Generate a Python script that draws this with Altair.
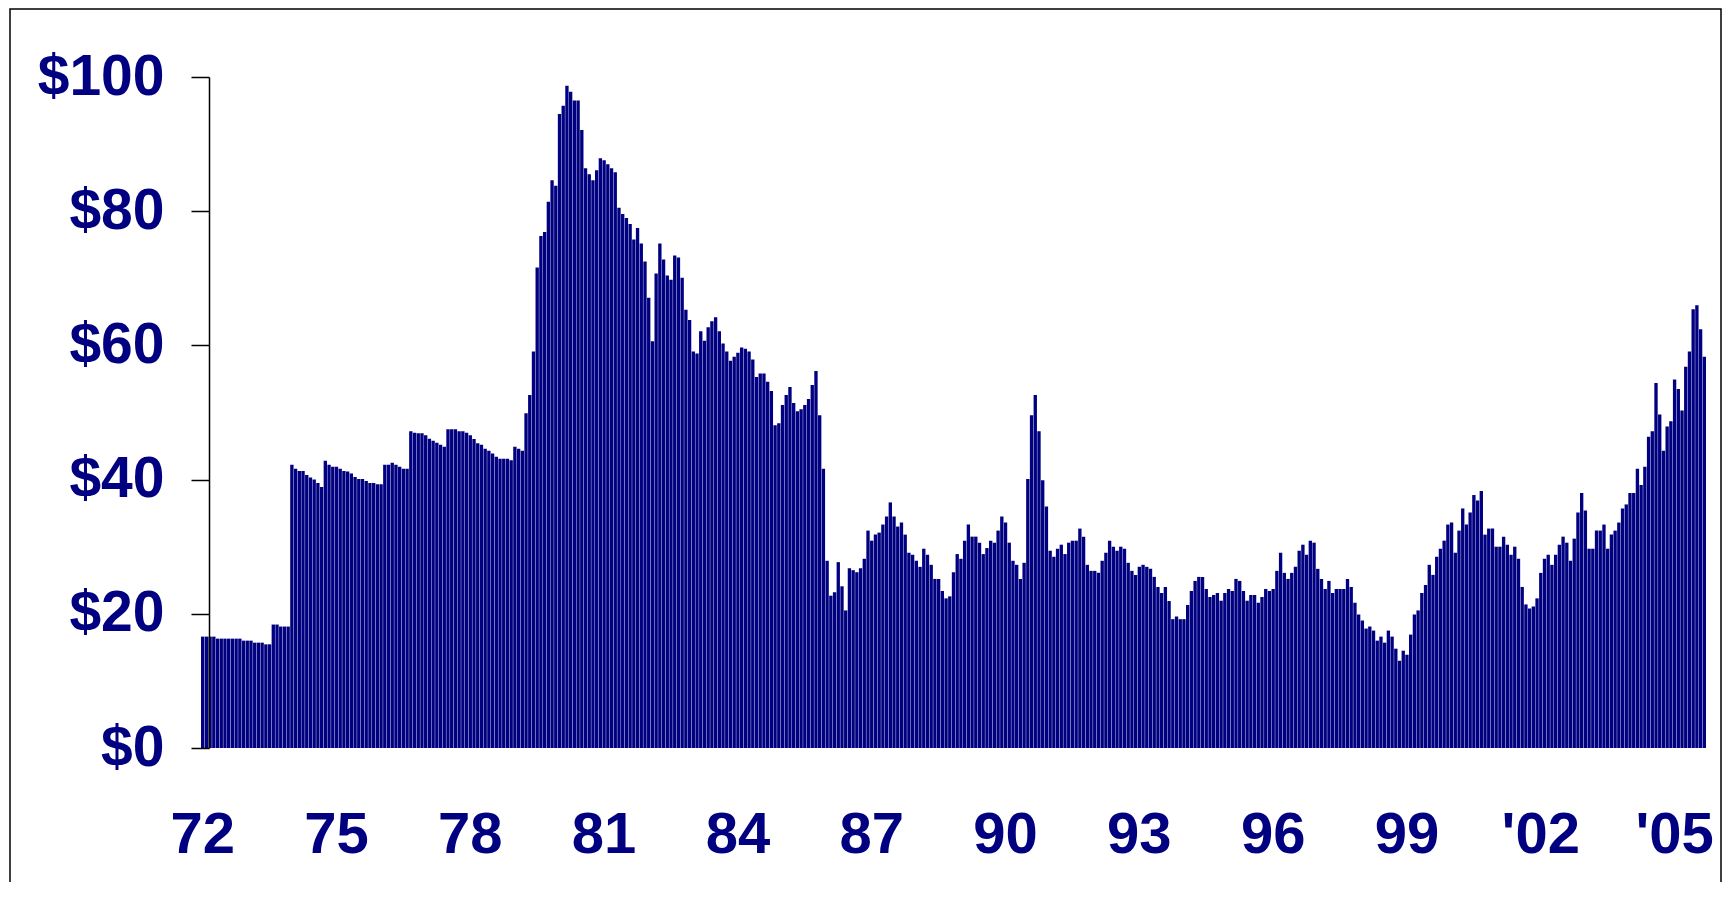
import altair as alt
import pandas as pd

# ---- data (monthly, starting January 1972) ----
start_year = 1972

prices_1970s = [
    16.6, 16.6, 16.6, 16.6, 16.3, 16.3, 16.3, 16.3, 16.3, 16.3, 16.3, 16.0,
    16.0, 16.0, 15.7, 15.7, 15.7, 15.45, 15.45, 18.4, 18.4, 18.1, 18.1, 18.1,
    42.2, 41.6, 41.3, 41.3, 40.7, 40.3, 40.0, 39.5, 38.9, 42.8, 42.2, 41.9,
    41.9, 41.6, 41.3, 41.2, 40.9, 40.4, 40.1, 40.1, 39.8, 39.5, 39.5, 39.3,
    39.3, 42.2, 42.2, 42.5, 42.2, 41.9, 41.6, 41.6, 47.2, 47.0, 46.9, 46.9,
    46.6, 46.1, 45.8, 45.5, 45.2, 44.9, 47.5, 47.5, 47.5, 47.2, 47.2, 47.0,
    46.6, 46.05, 45.4, 45.2, 44.6, 44.3, 43.9, 43.4, 43.1, 43.1, 43.1, 42.9,
    44.9, 44.6, 44.3, 49.9, 52.6, 59.1, 71.6, 76.3, 76.9, 81.4, 84.6, 83.8,
]
prices_1980s = [
    94.5, 95.7, 98.7, 97.8, 96.5, 96.5, 92.1, 86.4, 85.5, 84.6,
    86.1, 87.9, 87.6, 87.0, 86.4, 85.8, 80.5, 79.6, 79.0, 78.1,
    75.8, 77.5, 75.2, 72.5, 67.1, 60.6, 70.7, 75.2, 72.8, 70.4,
    69.8, 73.4, 73.1, 70.1, 65.3, 63.8, 59.1, 58.8, 62.1, 60.7,
    62.7, 63.6, 64.2, 62.1, 60.3, 59.1, 57.7, 58.3, 58.9, 59.7,
    59.5, 59.1, 57.9, 55.3, 55.8, 55.8, 54.6, 53.2, 48.1, 48.4,
    51.1, 52.6, 53.8, 51.4, 50.2, 50.5, 51.1, 52.0, 54.1, 56.2,
    49.6, 41.6, 27.9, 22.7, 23.2, 27.7, 24.1, 20.5, 26.8, 26.5,
    26.2, 26.8, 28.2, 32.4, 30.9, 31.8, 32.1, 33.3, 34.5, 36.6,
    34.5, 33.0, 33.6, 31.8, 29.1, 28.8, 27.9, 27.0, 29.7, 28.8,
    27.3, 25.2, 25.2, 23.4, 22.3, 22.6, 26.2, 28.9, 28.2, 30.9,
    33.3, 31.5, 31.5, 30.6, 28.9, 29.8, 30.9, 30.6, 32.4, 34.5,
]
prices_1990s = [
    33.6, 30.6, 27.9, 27.3, 25.2, 27.6, 40.1, 49.6, 52.6, 47.2,
    39.9, 36.0, 29.4, 28.5, 29.7, 30.3, 28.9, 30.6, 30.9, 30.9,
    32.7, 31.5, 27.3, 26.4, 26.4, 26.1, 27.9, 29.1, 30.9, 30.0,
    29.4, 30.0, 29.7, 27.6, 26.4, 25.8, 27.0, 27.3, 27.0, 26.7,
    25.5, 24.0, 23.1, 24.0, 21.9, 19.2, 19.6, 19.2, 19.2, 21.3,
    23.4, 24.9, 25.5, 25.5,
    23.7, 22.5, 22.8, 23.1, 21.95, 23.1, 23.7, 23.4, 25.2, 24.9,
    23.4, 21.95, 22.8, 22.8, 21.65, 22.5, 23.7, 23.4, 23.7, 26.4,
    29.1, 26.1, 25.2, 26.1, 27.0, 29.4, 30.3, 28.8, 30.9, 30.6,
    26.7, 25.2, 23.7, 24.9, 23.1, 23.7, 23.7, 23.7, 25.2, 24.0,
    21.65, 19.9, 19.0, 17.8, 18.1, 17.5, 16.0, 16.6, 15.7, 17.5,
    16.6, 14.8, 13.0,
    14.5, 13.9, 16.9, 19.9, 20.5, 23.1, 24.3, 27.3, 25.8, 28.5,
    29.7, 30.9, 33.3,
]
prices_2000s = [
    33.6, 29.1, 32.4, 35.7, 33.3, 35.1, 37.7, 36.9, 38.3, 31.8,
    32.7, 32.7, 30.0, 30.0, 31.5, 30.3, 28.8, 30.0, 28.2, 24.0,
    21.4, 20.8, 21.1, 22.3, 26.1, 28.2, 28.8, 27.3, 28.8, 30.3,
    31.5, 30.6, 27.9, 31.2, 35.1, 38.0, 35.4, 29.7, 29.7, 32.4,
    32.4, 33.3, 29.7, 31.8, 32.4, 33.6, 35.7, 36.3, 38.0, 38.0,
    41.6, 39.2, 41.9, 46.4, 47.2, 54.4, 49.7, 44.3, 47.9, 48.7,
    54.9, 53.5, 50.3, 56.8, 59.1, 65.4, 66.0, 62.4, 58.3,
]

y_ticks = [0, 20, 40, 60, 80, 100]
x_label_years = [1972, 1975, 1978, 1981, 1984, 1987, 1990, 1993, 1996, 1999, 2002, 2005]

values = prices_1970s + prices_1980s + prices_1990s + prices_2000s
months = [f"{start_year + i // 12}-{i % 12 + 1:02d}" for i in range(len(values))]
df = pd.DataFrame({"month": months, "price": values})

NAVY = "#000080"
FONT = "Liberation Sans"

bars = alt.Chart(df).mark_bar(color=NAVY).encode(
    x=alt.X(
        "month:O",
        scale=alt.Scale(paddingInner=0.1, paddingOuter=0),
        axis=alt.Axis(
            values=[f"{y}-01" for y in x_label_years],
            labelExpr="(toNumber(substring(datum.value, 0, 4)) >= 2000 ? \"'\" : '') + substring(datum.value, 2, 4)",
            title=None,
            domain=False,
            ticks=False,
            tickSize=0,
            labelAngle=0,
            labelFont=FONT,
            labelFontSize=58,
            labelFontWeight="bold",
            labelColor=NAVY,
            labelPadding=58,
            labelFlush=False,
            labelOverlap=False,
        ),
    ),
    y=alt.Y(
        "price:Q",
        scale=alt.Scale(domain=[0, 100], nice=False, zero=True),
        axis=alt.Axis(
            values=y_ticks,
            labelExpr="'$' + datum.value",
            title=None,
            grid=False,
            domainColor="black",
            domainWidth=1.5,
            tickColor="black",
            tickWidth=1.5,
            tickSize=18,
            labelPadding=27,
            offset=-8,
            zindex=1,
            labelFont=FONT,
            labelFontSize=57,
            labelFontWeight="bold",
            labelColor=NAVY,
        ),
    ),
)

frame = alt.Chart(pd.DataFrame({"k": [0]})).mark_rect(
    fillOpacity=0, stroke="black", strokeWidth=1.5
).encode(
    x=alt.value(-191), x2=alt.value(1520), y=alt.value(-68), y2=alt.value(900)
)

chart = alt.layer(bars, frame).properties(
    width=1505,
    height=671,
    padding={"left": 193, "top": 69, "right": 16, "bottom": 134},
    autosize=alt.AutoSizeParams(type="none"),
    background="white",
).configure_view(strokeWidth=0)

chart.save("out.html", embed_options={"renderer": "svg", "actions": False})
